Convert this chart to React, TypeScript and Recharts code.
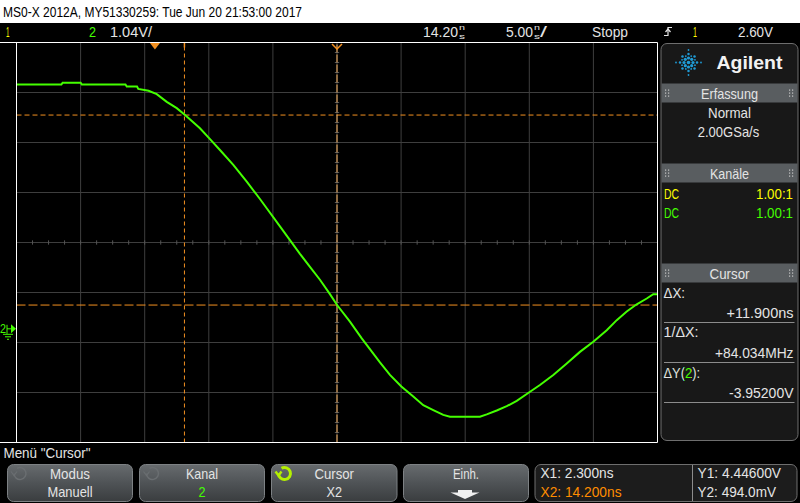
import React from 'react';
import { LineChart, Line, XAxis, YAxis, ReferenceLine, ReferenceDot } from 'recharts';

// ---- Data (channel 2 trace, time in ns, voltage in V) ----
const timeNs = [-10.8, -7.3, -7.2, -5.8, -5.7, -2.3, -2.2, -1.4, -1.3, -0.5, 0.14, 0.92, 1.7, 2.37, 3.51, 4.24, 5.07, 6.11, 7.16, 8.19, 9.75, 11.31, 12.09, 12.87, 13.65, 14.22, 15.21, 16.13, 17.55, 18.33, 19.22, 20.15, 20.93, 21.71, 22.49, 23.01, 25.35, 25.88, 26.66, 27.44, 28.22, 29.2, 30.03, 31.07, 32.12, 33.15, 34.19, 35.24, 36.02, 36.8, 37.58, 38.36, 38.87, 39.2];
const ch2Volts = [5.08, 5.08, 5.12, 5.12, 5.08, 5.08, 5.04, 5.04, 4.99, 4.95, 4.88, 4.72, 4.59, 4.44, 4.17, 3.96, 3.72, 3.41, 3.06, 2.7, 2.13, 1.56, 1.29, 1.02, 0.72, 0.49, 0.15, -0.2, -0.7, -0.96, -1.2, -1.41, -1.59, -1.69, -1.79, -1.83, -1.83, -1.78, -1.7, -1.61, -1.5, -1.32, -1.17, -0.96, -0.72, -0.48, -0.27, -0.03, 0.18, 0.36, 0.51, 0.63, 0.72, 0.72];

// ---- Axes / grid ----
const timeGridTicks = [-10.8, -5.8, -0.8, 4.2, 9.2, 14.2, 19.2, 24.2, 29.2, 34.2, 39.2];
const voltGridTicks = [-2.365, -1.325, -0.285, 0.755, 1.795, 2.835, 3.875, 4.915, 5.955];
const timeCenter = 14.2;
const voltCenter = 1.795;
const timeMinorStep = 1.25;
const voltMinorStep = 0.208;

// ---- Cursors / markers ----
const cursorX1 = 2.3;
const cursorX2 = 14.2;
const cursorY1 = 4.446;
const cursorY2 = 0.494;
const triggerTime = 0;
const ch2Ground = 0;

const FONT = "'Liberation Sans', 'DejaVu Sans', Arial, sans-serif";
const GREEN = '#44ff00';
const YELLOW = '#ffff00';
const ORANGE = '#f39020';
const TXT = '#e4e4e4';

const T = ({ x, y, w, size = 15, fill = TXT, anchor = 'start', weight = 400, children }: any) => (
  <text x={x} y={y} fontSize={size} fill={fill} textAnchor={anchor} fontWeight={weight}
    textLength={w} lengthAdjust="spacingAndGlyphs" fontFamily={FONT}>{children}</text>
);

const Grip = ({ x, y }: any) => (
  <g fill="#c8c8c8">
    {[0, 1].map((c) => [0, 1, 2].map((r) => (
      <rect key={c + '-' + r} x={x + c * 3} y={y + r * 3} width={1.2} height={1.2} />
    )))}
  </g>
);

const Header = ({ y, label, w }: any) => (
  <g>
    <rect x={661.5} y={y} width={136} height={19} fill="#595d60" />
    <Grip x={665} y={y + 6} />
    <Grip x={789} y={y + 6} />
    <T x={729.5} y={y + 15} w={w} anchor="middle" size={15}>{label}</T>
  </g>
);

const RotIcon = ({ cx, cy, color, sw }: any) => {
  const r = 6;
  return (
    <g fill="none" stroke={color} strokeWidth={sw}>
      <path d={`M ${cx - r} ${cy} A ${r} ${r} 0 1 0 ${cx - r * 0.5} ${cy - r * 0.87}`} />
      <path d={`M ${cx - r - 3} ${cy - 2} L ${cx - r} ${cy + 2} L ${cx - r + 3} ${cy - 2}`} strokeWidth={sw * 0.8} />
    </g>
  );
};

const Button = ({ x, w, top, bottom, topW, bottomW, bottomColor = TXT, icon }: any) => (
  <g>
    <rect x={x + 0.5} y={464.5} width={w} height={37} rx={6} fill="url(#btnGrad)" stroke="#7d8184" />
    {icon}
    {top && <T x={x + w / 2 + 0.5} y={478.5} w={topW} anchor="middle">{top}</T>}
    {bottom && <T x={x + w / 2 + 0.5} y={497} w={bottomW} anchor="middle" fill={bottomColor}>{bottom}</T>}
  </g>
);

const Starburst = ({ cx, cy }: any) => {
  const dots: any[] = [<circle key="c" cx={cx} cy={cy} r={1.8} />];
  [0, 45, 90, 135, 180, 225, 270, 315].forEach((a) => {
    const rad = (a * Math.PI) / 180;
    const long = a % 90 === 0;
    const steps = long ? [4.5, 8.5, 12.5] : [4.5, 8.5];
    steps.forEach((d, i) => {
      dots.push(<circle key={a + '-' + i} cx={cx + Math.cos(rad) * d} cy={cy + Math.sin(rad) * d} r={1.6 - i * 0.35} />);
    });
  });
  [22.5, 67.5, 112.5, 157.5, 202.5, 247.5, 292.5, 337.5].forEach((a) => {
    const rad = (a * Math.PI) / 180;
    dots.push(<circle key={'m' + a} cx={cx + Math.cos(rad) * 7} cy={cy + Math.sin(rad) * 7} r={0.9} />);
  });
  return <g fill="#1f9bd6">{dots}</g>;
};

const TriggerMarker = (p: any) => (
  <polygon points={`${p.cx - 5},${p.cy + 0.5} ${p.cx + 5},${p.cy + 0.5} ${p.cx},${p.cy + 7}`} fill={ORANGE} />
);
const X1Marker = (p: any) => (
  <line x1={p.cx} y1={p.cy} x2={p.cx} y2={p.cy + 5} stroke={ORANGE} strokeWidth={1.5} />
);
const X2Marker = (p: any) => (
  <polyline points={`${p.cx - 5},${p.cy + 1.5} ${p.cx},${p.cy + 6.5} ${p.cx + 5},${p.cy + 1.5}`} fill="none" stroke={ORANGE} strokeWidth={1.5} />
);
const GroundMarker = (p: any) => {
  const y = p.cy;
  return (
    <g>
      <text x={0} y={y + 4} fontSize={13} fill={GREEN} fontFamily={FONT} textLength={6} lengthAdjust="spacingAndGlyphs">2</text>
      <line x1={7} y1={y - 4} x2={7} y2={y + 5} stroke={GREEN} strokeWidth={1} />
      <polygon points={`11,${y - 4.5} 16,${y} 11,${y + 4.5}`} fill={GREEN} />
      <line x1={7} y1={y} x2={11} y2={y} stroke={GREEN} strokeWidth={1} />
      <line x1={3} y1={y + 5.5} x2={13} y2={y + 5.5} stroke={GREEN} strokeWidth={1} />
      <line x1={5} y1={y + 8} x2={11} y2={y + 8} stroke={GREEN} strokeWidth={1} />
      <line x1={7} y1={y + 10.5} x2={9} y2={y + 10.5} stroke={GREEN} strokeWidth={1} />
    </g>
  );
};

export default function App() {
  const data = timeNs.map((t, i) => ({ t, v: ch2Volts[i] }));
  const tMin = timeGridTicks[0];
  const tMax = timeGridTicks[timeGridTicks.length - 1];
  const vMin = voltGridTicks[0];
  const vMax = voltGridTicks[voltGridTicks.length - 1];

  const timeMinor: number[] = [];
  for (let t = tMin + timeMinorStep; t < tMax - 0.01; t += timeMinorStep) timeMinor.push(t);
  const voltMinor: number[] = [];
  for (let v = vMin + voltMinorStep; v < vMax - 0.01; v += voltMinorStep) voltMinor.push(v);

  return (
    <div style={{ position: 'fixed', left: 0, top: 0, width: 800, height: 503, background: '#000', overflow: 'hidden' }}>
      <div style={{ position: 'absolute', left: 0, top: 0 }}>
        <LineChart width={800} height={503} data={data}
          margin={{ top: 42.5, left: 16.5, right: 142.5, bottom: 60.5 }}>
          <XAxis type="number" dataKey="t" domain={[tMin, tMax]} hide allowDataOverflow />
          <YAxis type="number" domain={[vMin, vMax]} hide allowDataOverflow />
          {timeGridTicks.slice(1, -1).map((t) => (
            <ReferenceLine key={'gx' + t} x={t} stroke="#3e3e3e" strokeWidth={1} />
          ))}
          {voltGridTicks.slice(1, -1).map((v) => (
            <ReferenceLine key={'gy' + v} y={v} stroke="#3e3e3e" strokeWidth={1} />
          ))}
          {timeMinor.map((t) => (
            <ReferenceLine key={'mx' + t} segment={[{ x: t, y: voltCenter - 0.045 }, { x: t, y: voltCenter + 0.045 }]} stroke="#555" strokeWidth={1} />
          ))}
          {voltMinor.map((v) => (
            <ReferenceLine key={'my' + v} segment={[{ x: timeCenter - 0.17, y: v }, { x: timeCenter + 0.17, y: v }]} stroke="#555" strokeWidth={1} />
          ))}
          <ReferenceLine x={cursorX1} stroke={ORANGE} strokeWidth={1} strokeDasharray="4 3" />
          <ReferenceLine y={cursorY1} stroke={ORANGE} strokeWidth={1} strokeDasharray="5 3" />
          <ReferenceLine y={cursorY2} stroke={ORANGE} strokeWidth={1} strokeDasharray="9 3" />
          <ReferenceLine x={cursorX2} stroke="#ffb866" strokeWidth={1} strokeDasharray="8 2" />
          <Line type="linear" dataKey="v" stroke={GREEN} strokeWidth={2} dot={false} isAnimationActive={false} />
          <ReferenceDot x={triggerTime} y={vMax} r={0} shape={TriggerMarker} ifOverflow="visible" />
          <ReferenceDot x={cursorX1} y={vMax} r={0} shape={X1Marker} ifOverflow="visible" />
          <ReferenceDot x={cursorX2} y={vMax} r={0} shape={X2Marker} ifOverflow="visible" />
          <ReferenceDot x={tMin} y={ch2Ground} r={0} shape={GroundMarker} ifOverflow="visible" />
        </LineChart>
      </div>
      <svg width={800} height={503} style={{ position: 'absolute', left: 0, top: 0, pointerEvents: 'none' }}>
        <defs>
          <linearGradient id="btnGrad" x1="0" y1="0" x2="0" y2="1">
            <stop offset="0" stopColor="#676b6e" />
            <stop offset="0.5" stopColor="#4f5356" />
            <stop offset="1" stopColor="#3a3d3f" />
          </linearGradient>
          <linearGradient id="dyFill" gradientUnits="userSpaceOnUse" x1={663.5} y1={0} x2={700} y2={0}>
            <stop offset={0.55} stopColor={TXT} />
            <stop offset={0.55} stopColor={GREEN} />
            <stop offset={0.75} stopColor={GREEN} />
            <stop offset={0.75} stopColor={TXT} />
          </linearGradient>
        </defs>
        {/* title bar */}
        <rect x={0} y={0} width={800} height={23} fill="#fff" />
        <T x={3} y={17} w={299} size={14} fill="#000">MS0-X 2012A, MY51330259: Tue Jun 20 21:53:00 2017</T>

        {/* status bar */}
        <T x={6} y={37} w={3.5} fill={YELLOW}>1</T>
        <T x={89} y={37} w={7} fill={GREEN}>2</T>
        <T x={110} y={37} w={42}>1.04V/</T>
        <T x={423} y={37} w={35}>14.20</T>
        <T x={459} y={30} w={6} size={7}>n</T>
        <T x={459} y={38.5} w={6} size={7}>s</T>
        <T x={506} y={37} w={27}>5.00</T>
        <T x={534} y={30} w={6} size={7}>n</T>
        <T x={534} y={38.5} w={6} size={7}>s</T>
        <T x={540} y={37} w={7}>/</T>
        <T x={592} y={37} w={36}>Stopp</T>
        <g stroke={TXT} strokeWidth={1.2} fill="none">
          <path d="M 664 35.5 L 668 35.5 L 668 27.5 L 672 27.5" />
          <path d="M 665.5 32 L 668 29 L 670.5 32" />
        </g>
        <T x={693} y={37} w={4} fill={YELLOW}>1</T>
        <T x={738} y={37} w={35}>2.60V</T>

        {/* plot border */}
        <line x1={0} y1={42.5} x2={657.5} y2={42.5} stroke="#fff" strokeWidth={1} />
        <line x1={0} y1={442.5} x2={657.5} y2={442.5} stroke="#fff" strokeWidth={1} />
        <line x1={16.5} y1={42.5} x2={16.5} y2={442.5} stroke="#fff" strokeWidth={1} />
        <line x1={657.5} y1={42.5} x2={657.5} y2={442.5} stroke="#fff" strokeWidth={1} />

        {/* right panel */}
        <rect x={661} y={43.5} width={137} height={397} rx={6} fill="#181818" stroke="#6e6e6e" strokeWidth={1} />
        <Starburst cx={688.5} cy={62.5} />
        <T x={716.5} y={68.5} w={66} size={19} weight={700} fill="#f2f2f2">Agilent</T>
        <Header y={83.5} label="Erfassung" w={57} />
        <T x={729.5} y={117.5} w={43} anchor="middle">Normal</T>
        <T x={728.5} y={137} w={61.5} anchor="middle">2.00GSa/s</T>
        <Header y={163.5} label="Kanäle" w={39} />
        <T x={664} y={198.5} w={15} fill={YELLOW}>DC</T>
        <T x={756} y={198.5} w={37} fill={YELLOW}>1.00:1</T>
        <T x={664} y={218} w={15} fill={GREEN}>DC</T>
        <T x={756} y={218} w={37} fill={GREEN}>1.00:1</T>
        <Header y={263.5} label="Cursor" w={40} />
        <T x={663.5} y={297.5} w={21.5}>ΔX:</T>
        <T x={726.5} y={317.5} w={67}>+11.900ns</T>
        <line x1={664} y1={322.5} x2={794.5} y2={322.5} stroke="#8c8c8c" />
        <T x={663.5} y={337} w={35}>1/ΔX:</T>
        <T x={715} y={358} w={78.5}>+84.034MHz</T>
        <line x1={664} y1={362.5} x2={794.5} y2={362.5} stroke="#8c8c8c" />
        <T x={663.5} y={377.5} w={36.5} fill="url(#dyFill)">ΔY(2):</T>
        <T x={729} y={397.5} w={64.5}>-3.95200V</T>
        <line x1={664} y1={402.5} x2={794.5} y2={402.5} stroke="#8c8c8c" />

        {/* bottom menu */}
        <T x={3.5} y={457.5} w={87} size={14}>Menü "Cursor"</T>
        <Button x={7} w={125} top="Modus" topW={40} bottom="Manuell" bottomW={45}
          icon={<RotIcon cx={20} cy={473.5} color="#6a6e71" sw={1.5} />} />
        <Button x={139} w={125} top="Kanal" topW={32} bottom="2" bottomW={7} bottomColor={GREEN}
          icon={<RotIcon cx={152.5} cy={473.5} color="#6a6e71" sw={1.5} />} />
        <Button x={271} w={125.5} top="Cursor" topW={39.5} bottom="X2" bottomW={15.5}
          icon={<RotIcon cx={284.5} cy={473.5} color="#b4f000" sw={3} />} />
        <Button x={403} w={125} top="Einh." topW={26} />
        <polygon points="458,490 472,490 472,492.5 479.5,492.5 465,499 450.5,492.5 458,492.5" fill="#f0f0f0" />
        <rect x={535} y={464.5} width={262} height={37} rx={6} fill="#1c1c1c" stroke="#6e6e6e" />
        <line x1={692.5} y1={465} x2={692.5} y2={501} stroke="#8c8c8c" />
        <T x={540.5} y={478} w={73}>X1: 2.300ns</T>
        <T x={540.5} y={496.5} w={81} fill="#ff8c00">X2: 14.200ns</T>
        <T x={697.5} y={478} w={83.5}>Y1: 4.44600V</T>
        <T x={697.5} y={496.5} w={78.5}>Y2: 494.0mV</T>
      </svg>
    </div>
  );
}
